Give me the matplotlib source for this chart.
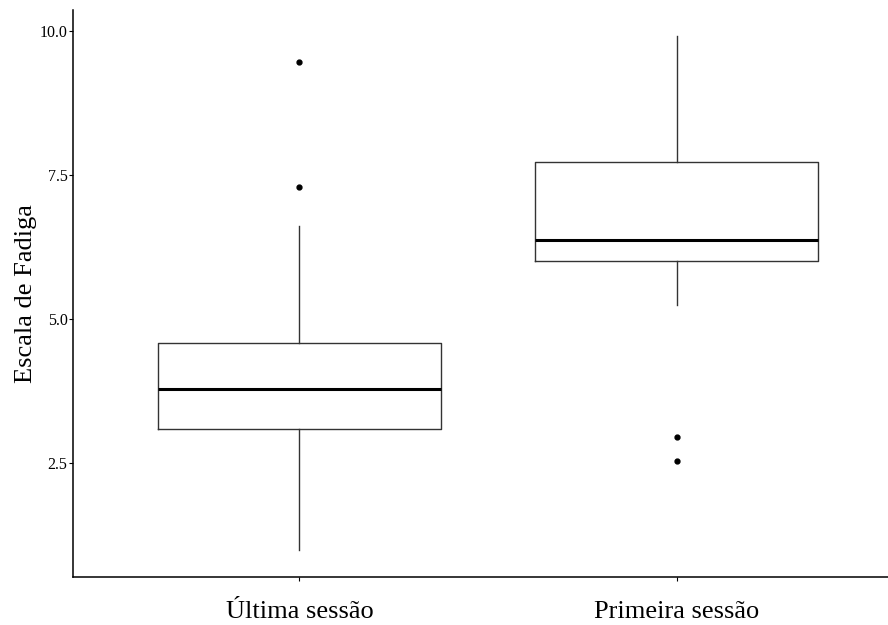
"""Boxplot of fatigue scale by session."""

import matplotlib
matplotlib.use("Agg")
import matplotlib.pyplot as plt

categories = ["Última sessão", "Primeira sessão"]
q1 = [3.09, 6.01]
median = [3.78, 6.37]
q3 = [4.58, 7.73]
whisker_low = [0.99, 5.24]
whisker_high = [6.61, 9.91]
outliers = [[9.46, 7.29], [2.95, 2.53]]
y_ticks = [2.5, 5.0, 7.5, 10.0]


def main() -> None:
    plt.rcParams["font.family"] = ["Liberation Serif", "DejaVu Serif"]

    fig = plt.figure(figsize=(8.88, 6.25), dpi=100)
    ax = fig.add_axes([0.0822, 0.0768, 0.935, 0.907])

    stats = []
    for i, name in enumerate(categories):
        stats.append({
            "label": name,
            "q1": q1[i], "med": median[i], "q3": q3[i],
            "whislo": whisker_low[i], "whishi": whisker_high[i],
            "fliers": outliers[i],
        })

    ax.bxp(
        stats, positions=[1, 2], widths=0.75, showcaps=False,
        boxprops=dict(color="#333333", linewidth=1.0),
        whiskerprops=dict(color="#333333", linewidth=1.0),
        medianprops=dict(color="black", linewidth=2.2),
        flierprops=dict(marker="o", markerfacecolor="black", markeredgecolor="black",
                        markersize=3.5, linestyle="none"),
    )

    ax.set_xlim(0.4, 2.6)
    ax.set_ylim(0.52, 10.36)
    ax.set_yticks(y_ticks)
    ax.set_yticklabels([f"{v:.1f}" for v in y_ticks])
    ax.set_xticks([1, 2])
    ax.set_xticklabels(categories, fontsize=19)
    ax.tick_params(axis="y", labelsize=11.5, length=3, colors="black", pad=1)
    ax.tick_params(axis="x", length=3, pad=14)
    ax.set_ylabel("Escala de Fadiga", fontsize=19, labelpad=2)
    for side in ("top", "right"):
        ax.spines[side].set_visible(False)
    for side in ("left", "bottom"):
        ax.spines[side].set_linewidth(1.1)

    fig.savefig("out.png", dpi=100)
    plt.close(fig)


if __name__ == "__main__":
    main()
